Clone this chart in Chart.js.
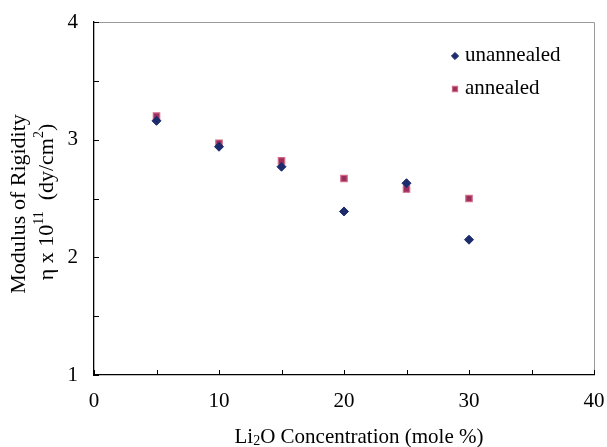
<!DOCTYPE html>
<html>
<head>
<meta charset="utf-8">
<script src="https://cdn.jsdelivr.net/npm/chart.js@4/dist/chart.umd.min.js"></script>
<style>
  html, body { margin: 0; padding: 0; background: #fff; }
  #wrap { width: 607px; height: 447px; }
</style>
</head>
<body>
<div id="wrap"><canvas id="rigidityChart"></canvas></div>
<script>
// data
var concentration = [5, 10, 15, 20, 25, 30];
var unannealed = [3.16, 2.94, 2.77, 2.39, 2.63, 2.15];
var annealed = [3.20, 2.97, 2.82, 2.67, 2.58, 2.50];
var xTicks = [0, 10, 20, 30, 40];
var yTicks = [1, 2, 3, 4];
var seriesNames = ["unannealed", "annealed"];

var serif = "'Liberation Serif', 'Times New Roman', serif";

function pairs(xs, ys) {
  return xs.map(function (x, i) { return { x: x, y: ys[i] }; });
}

// inward tick marks, frame, legend and axis titles with sub/superscripts
var decorations = {
  id: 'decorations',
  afterDraw: function (chart) {
    var ctx = chart.ctx, a = chart.chartArea;
    var xs = chart.scales.x, ys = chart.scales.y;
    ctx.save();
    // grey top / right frame
    ctx.strokeStyle = '#9a9a9a';
    ctx.lineWidth = 1;
    ctx.beginPath();
    ctx.moveTo(a.left, a.top + 0.5);
    ctx.lineTo(a.right + 0.5, a.top + 0.5);
    ctx.lineTo(a.right + 0.5, a.bottom);
    ctx.stroke();
    // ticks
    ctx.strokeStyle = '#000';
    ctx.beginPath();
    xs.ticks.forEach(function (t) {
      var px = Math.round(xs.getPixelForValue(t.value)) + 0.5;
      ctx.moveTo(px, a.bottom);
      ctx.lineTo(px, a.bottom - 5);
    });
    ys.ticks.forEach(function (t) {
      var py = Math.round(ys.getPixelForValue(t.value)) + 0.5;
      ctx.moveTo(a.left, py);
      ctx.lineTo(a.left + 5, py);
    });
    ctx.stroke();

    // legend
    ctx.fillStyle = '#000';
    ctx.font = '21px ' + serif;
    ctx.textBaseline = 'middle';
    ctx.textAlign = 'left';
    var lx = 455, ly = [56, 89];
    chart.data.datasets.forEach(function (ds, i) {
      ctx.save();
      ctx.fillStyle = ds.backgroundColor;
      ctx.strokeStyle = ds.borderColor;
      ctx.lineWidth = ds.borderWidth;
      Chart.helpers.drawPoint(ctx, {
        pointStyle: ds.pointStyle,
        radius: ds.pointRadius * 0.8,
        borderWidth: ds.borderWidth,
        rotation: 0
      }, lx, ly[i]);
      ctx.restore();
      ctx.fillText(ds.label, lx + 10, ly[i] - 1);
    });

    // x title: Li2O Concentration (mole %)
    var big = '21px ' + serif, small = '14px ' + serif;
    var parts = [['Li', big, 0], ['2', small, 4], ['O Concentration (mole %)', big, 0]];
    drawParts(ctx, parts, 359, 437);

    // y title, two rotated lines
    var bigY = '22px ' + serif, smallY = '14px ' + serif;
    ctx.save();
    ctx.translate(19, 204);
    ctx.rotate(-Math.PI / 2);
    drawParts(ctx, [['Modulus of Rigidity', bigY, 0]], 0, 0);
    ctx.restore();
    ctx.save();
    ctx.translate(47, 202);
    ctx.rotate(-Math.PI / 2);
    drawParts(ctx, [['\u03B7 x 10', bigY, 0], ['11', smallY, -8], ['  (dy/cm', bigY, 0], ['2', smallY, -8], [')', bigY, 0]], 0, 0);
    ctx.restore();
    ctx.restore();
  }
};

function drawParts(ctx, parts, cx, cy) {
  var total = 0;
  parts.forEach(function (p) { ctx.font = p[1]; total += ctx.measureText(p[0]).width; });
  var x = cx - total / 2;
  ctx.textAlign = 'left';
  ctx.textBaseline = 'middle';
  ctx.fillStyle = '#000';
  parts.forEach(function (p) {
    ctx.font = p[1];
    ctx.fillText(p[0], x, cy + p[2]);
    x += ctx.measureText(p[0]).width;
  });
}

new Chart(document.getElementById('rigidityChart'), {
  type: 'scatter',
  data: {
    datasets: [{
      label: seriesNames[0],
      data: pairs(concentration, unannealed),
      pointStyle: 'rectRot',
      pointRadius: 4.5,
      pointHoverRadius: 4.5,
      backgroundColor: '#1c2b6b',
      borderColor: '#1c2b6b',
      borderWidth: 1
    }, {
      label: seriesNames[1],
      data: pairs(concentration, annealed),
      pointStyle: 'rect',
      pointRadius: 4.5,
      pointHoverRadius: 4.5,
      backgroundColor: '#9c2d5c',
      borderColor: '#cf6a84',
      borderWidth: 1.2
    }]
  },
  options: {
    responsive: true,
    maintainAspectRatio: false,
    animation: false,
    layout: { padding: { top: 22, right: 13, left: 0, bottom: 0 } },
    plugins: {
      legend: { display: false },
      tooltip: { enabled: false }
    },
    scales: {
      x: {
        type: 'linear',
        min: 0, max: 40,
        grid: { display: false },
        border: { display: true, color: '#000', width: 1.3 },
        ticks: {
          stepSize: 5,
          padding: 6,
          color: '#000',
          font: { family: serif, size: 21 },
          maxRotation: 0,
          callback: function (v) { return xTicks.indexOf(v) >= 0 ? String(v) : ''; }
        },
        afterFit: function (s) { s.height = 72; s.paddingRight = 0; }
      },
      y: {
        type: 'linear',
        min: 1, max: 4,
        grid: { display: false },
        border: { display: true, color: '#000', width: 1.3 },
        ticks: {
          stepSize: 0.5,
          padding: 8,
          color: '#000',
          font: { family: serif, size: 21 },
          callback: function (v) { return yTicks.indexOf(v) >= 0 ? String(v) : ''; }
        },
        afterFit: function (s) { s.width = 94; }
      }
    }
  },
  plugins: [decorations]
});
</script>
</body>
</html>
